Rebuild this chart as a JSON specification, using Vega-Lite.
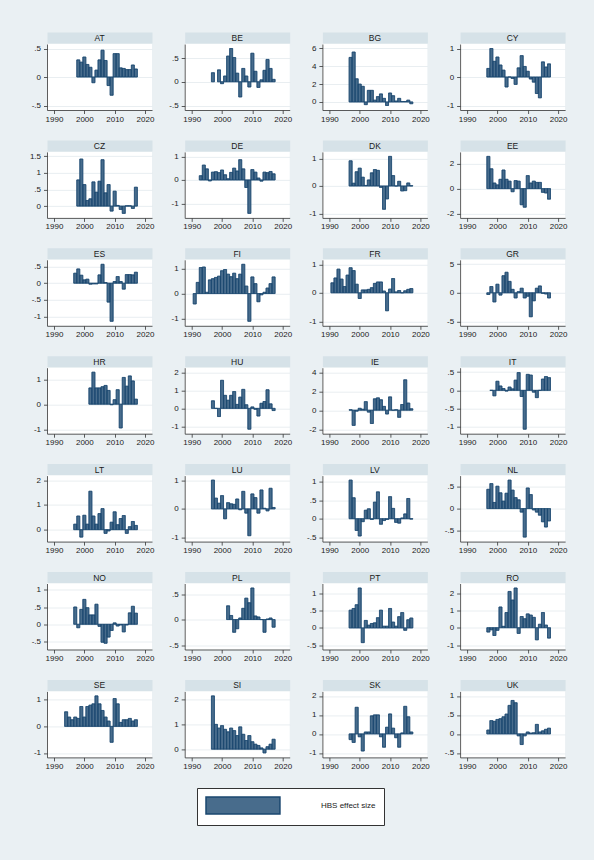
{
"$schema": "https://vega.github.io/schema/vega-lite/v6.json",
"background": "#eaf0f3",
"padding": {"left": 29, "top": 34, "right": 27, "bottom": 35},
"data": {"values": [
{"c":"AT","yr":1998,"v":0.30},{"c":"AT","yr":1999,"v":0.26},{"c":"AT","yr":2000,"v":0.35},{"c":"AT","yr":2001,"v":0.22},{"c":"AT","yr":2002,"v":0.17},{"c":"AT","yr":2003,"v":-0.10},{"c":"AT","yr":2004,"v":0.12},{"c":"AT","yr":2005,"v":0.30},{"c":"AT","yr":2006,"v":0.47},{"c":"AT","yr":2007,"v":0.29},{"c":"AT","yr":2008,"v":-0.15},{"c":"AT","yr":2009,"v":-0.32},{"c":"AT","yr":2010,"v":0.41},{"c":"AT","yr":2011,"v":0.41},{"c":"AT","yr":2012,"v":0.16},{"c":"AT","yr":2013,"v":0.15},{"c":"AT","yr":2014,"v":0.13},{"c":"AT","yr":2015,"v":0.13},{"c":"AT","yr":2016,"v":0.21},{"c":"AT","yr":2017,"v":0.14},
{"c":"BE","yr":1997,"v":0.19},{"c":"BE","yr":1999,"v":0.25},{"c":"BE","yr":2000,"v":-0.04},{"c":"BE","yr":2001,"v":0.12},{"c":"BE","yr":2002,"v":0.54},{"c":"BE","yr":2003,"v":0.70},{"c":"BE","yr":2004,"v":0.51},{"c":"BE","yr":2005,"v":0.18},{"c":"BE","yr":2006,"v":-0.32},{"c":"BE","yr":2007,"v":0.28},{"c":"BE","yr":2008,"v":0.12},{"c":"BE","yr":2009,"v":-0.11},{"c":"BE","yr":2010,"v":0.60},{"c":"BE","yr":2011,"v":0.22},{"c":"BE","yr":2012,"v":-0.12},{"c":"BE","yr":2013,"v":0.04},{"c":"BE","yr":2014,"v":0.24},{"c":"BE","yr":2015,"v":0.47},{"c":"BE","yr":2016,"v":0.28},{"c":"BE","yr":2017,"v":0.05},
{"c":"BG","yr":1997,"v":5.0},{"c":"BG","yr":1998,"v":5.6},{"c":"BG","yr":1999,"v":2.6},{"c":"BG","yr":2000,"v":2.0},{"c":"BG","yr":2001,"v":1.75},{"c":"BG","yr":2002,"v":-0.3},{"c":"BG","yr":2003,"v":1.3},{"c":"BG","yr":2004,"v":1.3},{"c":"BG","yr":2005,"v":0.2},{"c":"BG","yr":2006,"v":0.6},{"c":"BG","yr":2007,"v":0.9},{"c":"BG","yr":2008,"v":0.4},{"c":"BG","yr":2009,"v":-0.4},{"c":"BG","yr":2010,"v":1.0},{"c":"BG","yr":2011,"v":0.7},{"c":"BG","yr":2012,"v":0.1},{"c":"BG","yr":2013,"v":0.4},{"c":"BG","yr":2014,"v":0.05},{"c":"BG","yr":2015,"v":0.05},{"c":"BG","yr":2016,"v":0.2},{"c":"BG","yr":2017,"v":-0.2},
{"c":"CY","yr":1997,"v":0.30},{"c":"CY","yr":1998,"v":1.0},{"c":"CY","yr":1999,"v":0.55},{"c":"CY","yr":2000,"v":0.70},{"c":"CY","yr":2001,"v":0.42},{"c":"CY","yr":2002,"v":0.24},{"c":"CY","yr":2003,"v":-0.35},{"c":"CY","yr":2004,"v":0},{"c":"CY","yr":2005,"v":-0.05},{"c":"CY","yr":2006,"v":-0.26},{"c":"CY","yr":2007,"v":0.32},{"c":"CY","yr":2008,"v":0.75},{"c":"CY","yr":2009,"v":0.37},{"c":"CY","yr":2010,"v":0.20},{"c":"CY","yr":2011,"v":-0.07},{"c":"CY","yr":2012,"v":-0.18},{"c":"CY","yr":2013,"v":-0.58},{"c":"CY","yr":2014,"v":-0.73},{"c":"CY","yr":2015,"v":0.53},{"c":"CY","yr":2016,"v":0.35},{"c":"CY","yr":2017,"v":0.46},
{"c":"CZ","yr":1998,"v":0.79},{"c":"CZ","yr":1999,"v":1.42},{"c":"CZ","yr":2000,"v":0.65},{"c":"CZ","yr":2001,"v":0.17},{"c":"CZ","yr":2002,"v":0.22},{"c":"CZ","yr":2003,"v":0.73},{"c":"CZ","yr":2004,"v":0.42},{"c":"CZ","yr":2005,"v":0.75},{"c":"CZ","yr":2006,"v":1.40},{"c":"CZ","yr":2007,"v":0.40},{"c":"CZ","yr":2008,"v":0.65},{"c":"CZ","yr":2009,"v":-0.15},{"c":"CZ","yr":2010,"v":0.45},{"c":"CZ","yr":2011,"v":0.02},{"c":"CZ","yr":2012,"v":-0.10},{"c":"CZ","yr":2013,"v":-0.22},{"c":"CZ","yr":2014,"v":0.01},{"c":"CZ","yr":2015,"v":0.01},{"c":"CZ","yr":2016,"v":-0.07},{"c":"CZ","yr":2017,"v":0.57},
{"c":"DE","yr":1993,"v":0.18},{"c":"DE","yr":1994,"v":0.63},{"c":"DE","yr":1995,"v":0.47},{"c":"DE","yr":1996,"v":-0.04},{"c":"DE","yr":1997,"v":0.33},{"c":"DE","yr":1998,"v":0.35},{"c":"DE","yr":1999,"v":0.31},{"c":"DE","yr":2000,"v":0.42},{"c":"DE","yr":2001,"v":0.22},{"c":"DE","yr":2002,"v":0.05},{"c":"DE","yr":2003,"v":0.32},{"c":"DE","yr":2004,"v":0.50},{"c":"DE","yr":2005,"v":0.38},{"c":"DE","yr":2006,"v":0.86},{"c":"DE","yr":2007,"v":0.47},{"c":"DE","yr":2008,"v":-0.32},{"c":"DE","yr":2009,"v":-1.42},{"c":"DE","yr":2010,"v":0.44},{"c":"DE","yr":2011,"v":0.33},{"c":"DE","yr":2012,"v":0.08},{"c":"DE","yr":2013,"v":-0.05},{"c":"DE","yr":2014,"v":0.33},{"c":"DE","yr":2015,"v":0.31},{"c":"DE","yr":2016,"v":0.36},{"c":"DE","yr":2017,"v":0.26},
{"c":"DK","yr":1997,"v":0.92},{"c":"DK","yr":1998,"v":0.10},{"c":"DK","yr":1999,"v":0.52},{"c":"DK","yr":2000,"v":0.65},{"c":"DK","yr":2001,"v":0.32},{"c":"DK","yr":2002,"v":0.02},{"c":"DK","yr":2003,"v":0.22},{"c":"DK","yr":2004,"v":0.48},{"c":"DK","yr":2005,"v":0.60},{"c":"DK","yr":2006,"v":0.57},{"c":"DK","yr":2007,"v":-0.05},{"c":"DK","yr":2008,"v":-0.85},{"c":"DK","yr":2009,"v":-0.47},{"c":"DK","yr":2010,"v":1.08},{"c":"DK","yr":2011,"v":0.38},{"c":"DK","yr":2012,"v":0.0},{"c":"DK","yr":2013,"v":0.17},{"c":"DK","yr":2014,"v":-0.18},{"c":"DK","yr":2015,"v":-0.17},{"c":"DK","yr":2016,"v":0.11},{"c":"DK","yr":2017,"v":0.01},
{"c":"EE","yr":1997,"v":2.6},{"c":"EE","yr":1998,"v":1.6},{"c":"EE","yr":1999,"v":0.45},{"c":"EE","yr":2000,"v":0.3},{"c":"EE","yr":2001,"v":0.75},{"c":"EE","yr":2002,"v":1.5},{"c":"EE","yr":2003,"v":0.75},{"c":"EE","yr":2004,"v":0.6},{"c":"EE","yr":2005,"v":-0.25},{"c":"EE","yr":2006,"v":0.65},{"c":"EE","yr":2007,"v":0.6},{"c":"EE","yr":2008,"v":-1.3},{"c":"EE","yr":2009,"v":-1.5},{"c":"EE","yr":2010,"v":1.05},{"c":"EE","yr":2011,"v":0.45},{"c":"EE","yr":2012,"v":0.6},{"c":"EE","yr":2013,"v":0.5},{"c":"EE","yr":2014,"v":0.5},{"c":"EE","yr":2015,"v":-0.3},{"c":"EE","yr":2016,"v":-0.35},{"c":"EE","yr":2017,"v":-0.85},
{"c":"ES","yr":1997,"v":0.30},{"c":"ES","yr":1998,"v":0.43},{"c":"ES","yr":1999,"v":0.24},{"c":"ES","yr":2000,"v":0.10},{"c":"ES","yr":2001,"v":0.12},{"c":"ES","yr":2002,"v":-0.03},{"c":"ES","yr":2003,"v":-0.02},{"c":"ES","yr":2004,"v":-0.02},{"c":"ES","yr":2005,"v":0.25},{"c":"ES","yr":2006,"v":0.57},{"c":"ES","yr":2007,"v":0.02},{"c":"ES","yr":2008,"v":-0.57},{"c":"ES","yr":2009,"v":-1.15},{"c":"ES","yr":2010,"v":0.05},{"c":"ES","yr":2011,"v":0.20},{"c":"ES","yr":2012,"v":0.05},{"c":"ES","yr":2013,"v":-0.18},{"c":"ES","yr":2014,"v":0.26},{"c":"ES","yr":2015,"v":0.26},{"c":"ES","yr":2016,"v":0.25},{"c":"ES","yr":2017,"v":0.33},
{"c":"FI","yr":1991,"v":-0.42},{"c":"FI","yr":1992,"v":0.45},{"c":"FI","yr":1993,"v":1.05},{"c":"FI","yr":1994,"v":1.07},{"c":"FI","yr":1995,"v":0.05},{"c":"FI","yr":1996,"v":0.55},{"c":"FI","yr":1997,"v":0.60},{"c":"FI","yr":1998,"v":0.65},{"c":"FI","yr":1999,"v":0.70},{"c":"FI","yr":2000,"v":0.92},{"c":"FI","yr":2001,"v":0.97},{"c":"FI","yr":2002,"v":0.78},{"c":"FI","yr":2003,"v":0.68},{"c":"FI","yr":2004,"v":0.82},{"c":"FI","yr":2005,"v":0.60},{"c":"FI","yr":2006,"v":0.78},{"c":"FI","yr":2007,"v":1.18},{"c":"FI","yr":2008,"v":0.30},{"c":"FI","yr":2009,"v":-1.12},{"c":"FI","yr":2010,"v":0.67},{"c":"FI","yr":2011,"v":0.40},{"c":"FI","yr":2012,"v":-0.33},{"c":"FI","yr":2013,"v":-0.05},{"c":"FI","yr":2014,"v":0.05},{"c":"FI","yr":2015,"v":0.22},{"c":"FI","yr":2016,"v":0.40},{"c":"FI","yr":2017,"v":0.67},
{"c":"FR","yr":1991,"v":0.35},{"c":"FR","yr":1992,"v":0.52},{"c":"FR","yr":1993,"v":0.83},{"c":"FR","yr":1994,"v":0.48},{"c":"FR","yr":1995,"v":0.22},{"c":"FR","yr":1996,"v":0.62},{"c":"FR","yr":1997,"v":0.88},{"c":"FR","yr":1998,"v":0.78},{"c":"FR","yr":1999,"v":0.30},{"c":"FR","yr":2000,"v":-0.20},{"c":"FR","yr":2001,"v":0.10},{"c":"FR","yr":2002,"v":0.10},{"c":"FR","yr":2003,"v":0.12},{"c":"FR","yr":2004,"v":0.18},{"c":"FR","yr":2005,"v":0.33},{"c":"FR","yr":2006,"v":0.38},{"c":"FR","yr":2007,"v":0.38},{"c":"FR","yr":2008,"v":0.06},{"c":"FR","yr":2009,"v":-0.63},{"c":"FR","yr":2010,"v":0.13},{"c":"FR","yr":2011,"v":0.50},{"c":"FR","yr":2012,"v":0.03},{"c":"FR","yr":2013,"v":0.08},{"c":"FR","yr":2014,"v":0.0},{"c":"FR","yr":2015,"v":0.07},{"c":"FR","yr":2016,"v":0.12},{"c":"FR","yr":2017,"v":0.15},
{"c":"GR","yr":1997,"v":-0.3},{"c":"GR","yr":1998,"v":1.1},{"c":"GR","yr":1999,"v":-1.6},{"c":"GR","yr":2000,"v":1.5},{"c":"GR","yr":2001,"v":-0.4},{"c":"GR","yr":2002,"v":3.0},{"c":"GR","yr":2003,"v":3.6},{"c":"GR","yr":2004,"v":2.0},{"c":"GR","yr":2005,"v":0.6},{"c":"GR","yr":2006,"v":-0.9},{"c":"GR","yr":2007,"v":0.2},{"c":"GR","yr":2008,"v":0.8},{"c":"GR","yr":2009,"v":-0.9},{"c":"GR","yr":2010,"v":-0.6},{"c":"GR","yr":2011,"v":-4.2},{"c":"GR","yr":2012,"v":-1.4},{"c":"GR","yr":2013,"v":0.8},{"c":"GR","yr":2014,"v":1.2},{"c":"GR","yr":2015,"v":-0.1},{"c":"GR","yr":2016,"v":-0.2},{"c":"GR","yr":2017,"v":-0.9},
{"c":"HR","yr":2002,"v":0.65},{"c":"HR","yr":2003,"v":1.28},{"c":"HR","yr":2004,"v":0.65},{"c":"HR","yr":2005,"v":0.65},{"c":"HR","yr":2006,"v":0.70},{"c":"HR","yr":2007,"v":0.75},{"c":"HR","yr":2008,"v":0.55},{"c":"HR","yr":2009,"v":-0.02},{"c":"HR","yr":2010,"v":0.18},{"c":"HR","yr":2011,"v":0.58},{"c":"HR","yr":2012,"v":-0.95},{"c":"HR","yr":2013,"v":1.07},{"c":"HR","yr":2014,"v":0.72},{"c":"HR","yr":2015,"v":1.13},{"c":"HR","yr":2016,"v":0.93},{"c":"HR","yr":2017,"v":0.20},
{"c":"HU","yr":1997,"v":0.42},{"c":"HU","yr":1998,"v":0.0},{"c":"HU","yr":1999,"v":-0.45},{"c":"HU","yr":2000,"v":1.55},{"c":"HU","yr":2001,"v":0.72},{"c":"HU","yr":2002,"v":0.45},{"c":"HU","yr":2003,"v":0.72},{"c":"HU","yr":2004,"v":0.93},{"c":"HU","yr":2005,"v":0.22},{"c":"HU","yr":2006,"v":0.62},{"c":"HU","yr":2007,"v":1.05},{"c":"HU","yr":2008,"v":0.20},{"c":"HU","yr":2009,"v":-1.15},{"c":"HU","yr":2010,"v":0.08},{"c":"HU","yr":2011,"v":-0.05},{"c":"HU","yr":2012,"v":-0.42},{"c":"HU","yr":2013,"v":0.28},{"c":"HU","yr":2014,"v":0.38},{"c":"HU","yr":2015,"v":1.03},{"c":"HU","yr":2016,"v":0.25},{"c":"HU","yr":2017,"v":-0.12},
{"c":"IE","yr":1997,"v":0.05},{"c":"IE","yr":1998,"v":-1.6},{"c":"IE","yr":1999,"v":-0.1},{"c":"IE","yr":2000,"v":0.2},{"c":"IE","yr":2001,"v":0.1},{"c":"IE","yr":2002,"v":0.9},{"c":"IE","yr":2003,"v":-0.2},{"c":"IE","yr":2004,"v":-1.4},{"c":"IE","yr":2005,"v":1.2},{"c":"IE","yr":2006,"v":1.3},{"c":"IE","yr":2007,"v":1.1},{"c":"IE","yr":2008,"v":0.4},{"c":"IE","yr":2009,"v":-0.4},{"c":"IE","yr":2010,"v":1.4},{"c":"IE","yr":2011,"v":0.0},{"c":"IE","yr":2012,"v":0.05},{"c":"IE","yr":2013,"v":-0.75},{"c":"IE","yr":2014,"v":0.6},{"c":"IE","yr":2015,"v":3.2},{"c":"IE","yr":2016,"v":0.75},{"c":"IE","yr":2017,"v":0.15},
{"c":"IT","yr":1998,"v":0.0},{"c":"IT","yr":1999,"v":-0.15},{"c":"IT","yr":2000,"v":0.25},{"c":"IT","yr":2001,"v":0.12},{"c":"IT","yr":2002,"v":0.05},{"c":"IT","yr":2003,"v":-0.02},{"c":"IT","yr":2004,"v":0.09},{"c":"IT","yr":2005,"v":0.04},{"c":"IT","yr":2006,"v":0.28},{"c":"IT","yr":2007,"v":0.49},{"c":"IT","yr":2008,"v":-0.17},{"c":"IT","yr":2009,"v":-1.07},{"c":"IT","yr":2010,"v":0.44},{"c":"IT","yr":2011,"v":0.42},{"c":"IT","yr":2012,"v":-0.05},{"c":"IT","yr":2013,"v":-0.20},{"c":"IT","yr":2014,"v":0.0},{"c":"IT","yr":2015,"v":0.31},{"c":"IT","yr":2016,"v":0.38},{"c":"IT","yr":2017,"v":0.35},
{"c":"LT","yr":1997,"v":0.22},{"c":"LT","yr":1998,"v":0.55},{"c":"LT","yr":1999,"v":-0.30},{"c":"LT","yr":2000,"v":0.58},{"c":"LT","yr":2001,"v":0.22},{"c":"LT","yr":2002,"v":1.55},{"c":"LT","yr":2003,"v":0.55},{"c":"LT","yr":2004,"v":0.22},{"c":"LT","yr":2005,"v":0.65},{"c":"LT","yr":2006,"v":0.85},{"c":"LT","yr":2007,"v":-0.15},{"c":"LT","yr":2008,"v":-0.05},{"c":"LT","yr":2009,"v":0.30},{"c":"LT","yr":2010,"v":0.72},{"c":"LT","yr":2011,"v":0.20},{"c":"LT","yr":2012,"v":0.45},{"c":"LT","yr":2013,"v":0.57},{"c":"LT","yr":2014,"v":-0.15},{"c":"LT","yr":2015,"v":0.12},{"c":"LT","yr":2016,"v":0.33},{"c":"LT","yr":2017,"v":0.17},
{"c":"LU","yr":1997,"v":1.02},{"c":"LU","yr":1998,"v":0.38},{"c":"LU","yr":1999,"v":0.20},{"c":"LU","yr":2000,"v":0.47},{"c":"LU","yr":2001,"v":-0.35},{"c":"LU","yr":2002,"v":0.22},{"c":"LU","yr":2003,"v":0.18},{"c":"LU","yr":2004,"v":0.16},{"c":"LU","yr":2005,"v":0.35},{"c":"LU","yr":2006,"v":-0.03},{"c":"LU","yr":2007,"v":0.62},{"c":"LU","yr":2008,"v":-0.15},{"c":"LU","yr":2009,"v":-0.95},{"c":"LU","yr":2010,"v":0.53},{"c":"LU","yr":2011,"v":0.40},{"c":"LU","yr":2012,"v":-0.15},{"c":"LU","yr":2013,"v":0.67},{"c":"LU","yr":2014,"v":0.02},{"c":"LU","yr":2015,"v":-0.07},{"c":"LU","yr":2016,"v":0.73},{"c":"LU","yr":2017,"v":0.05},
{"c":"LV","yr":1997,"v":1.05},{"c":"LV","yr":1998,"v":0.57},{"c":"LV","yr":1999,"v":-0.32},{"c":"LV","yr":2000,"v":-0.47},{"c":"LV","yr":2001,"v":-0.08},{"c":"LV","yr":2002,"v":0.23},{"c":"LV","yr":2003,"v":0.27},{"c":"LV","yr":2004,"v":-0.02},{"c":"LV","yr":2005,"v":0.45},{"c":"LV","yr":2006,"v":0.73},{"c":"LV","yr":2007,"v":-0.15},{"c":"LV","yr":2008,"v":-0.05},{"c":"LV","yr":2009,"v":-0.02},{"c":"LV","yr":2010,"v":0.60},{"c":"LV","yr":2011,"v":0.28},{"c":"LV","yr":2012,"v":-0.10},{"c":"LV","yr":2013,"v":-0.12},{"c":"LV","yr":2014,"v":0.02},{"c":"LV","yr":2015,"v":0.13},{"c":"LV","yr":2016,"v":0.55},{"c":"LV","yr":2017,"v":-0.01},
{"c":"NL","yr":1997,"v":0.44},{"c":"NL","yr":1998,"v":0.57},{"c":"NL","yr":1999,"v":0.14},{"c":"NL","yr":2000,"v":0.51},{"c":"NL","yr":2001,"v":0.36},{"c":"NL","yr":2002,"v":0.17},{"c":"NL","yr":2003,"v":0.35},{"c":"NL","yr":2004,"v":0.65},{"c":"NL","yr":2005,"v":0.42},{"c":"NL","yr":2006,"v":0.25},{"c":"NL","yr":2007,"v":0.20},{"c":"NL","yr":2008,"v":-0.08},{"c":"NL","yr":2009,"v":-0.65},{"c":"NL","yr":2010,"v":0.47},{"c":"NL","yr":2011,"v":0.32},{"c":"NL","yr":2012,"v":-0.03},{"c":"NL","yr":2013,"v":-0.08},{"c":"NL","yr":2014,"v":-0.15},{"c":"NL","yr":2015,"v":-0.30},{"c":"NL","yr":2016,"v":-0.42},{"c":"NL","yr":2017,"v":-0.28},
{"c":"NO","yr":1997,"v":0.50},{"c":"NO","yr":1998,"v":-0.10},{"c":"NO","yr":1999,"v":0.43},{"c":"NO","yr":2000,"v":0.72},{"c":"NO","yr":2001,"v":0.48},{"c":"NO","yr":2002,"v":0.27},{"c":"NO","yr":2003,"v":0.27},{"c":"NO","yr":2004,"v":0.58},{"c":"NO","yr":2005,"v":-0.06},{"c":"NO","yr":2006,"v":-0.52},{"c":"NO","yr":2007,"v":-0.55},{"c":"NO","yr":2008,"v":-0.37},{"c":"NO","yr":2009,"v":-0.18},{"c":"NO","yr":2010,"v":0.04},{"c":"NO","yr":2011,"v":-0.05},{"c":"NO","yr":2012,"v":-0.02},{"c":"NO","yr":2013,"v":-0.22},{"c":"NO","yr":2014,"v":-0.02},{"c":"NO","yr":2015,"v":0.33},{"c":"NO","yr":2016,"v":0.52},{"c":"NO","yr":2017,"v":0.32},
{"c":"PL","yr":2002,"v":0.27},{"c":"PL","yr":2003,"v":0.08},{"c":"PL","yr":2004,"v":-0.25},{"c":"PL","yr":2005,"v":-0.18},{"c":"PL","yr":2006,"v":0.03},{"c":"PL","yr":2007,"v":0.22},{"c":"PL","yr":2008,"v":0.42},{"c":"PL","yr":2009,"v":0.33},{"c":"PL","yr":2010,"v":0.62},{"c":"PL","yr":2011,"v":0.07},{"c":"PL","yr":2012,"v":0.05},{"c":"PL","yr":2013,"v":0.0},{"c":"PL","yr":2014,"v":-0.25},{"c":"PL","yr":2015,"v":0.01},{"c":"PL","yr":2016,"v":0.03},{"c":"PL","yr":2017,"v":-0.15},
{"c":"PT","yr":1997,"v":0.52},{"c":"PT","yr":1998,"v":0.57},{"c":"PT","yr":1999,"v":0.68},{"c":"PT","yr":2000,"v":1.17},{"c":"PT","yr":2001,"v":-0.43},{"c":"PT","yr":2002,"v":0.22},{"c":"PT","yr":2003,"v":0.08},{"c":"PT","yr":2004,"v":0.13},{"c":"PT","yr":2005,"v":0.15},{"c":"PT","yr":2006,"v":0.30},{"c":"PT","yr":2007,"v":0.52},{"c":"PT","yr":2008,"v":0.05},{"c":"PT","yr":2009,"v":0.05},{"c":"PT","yr":2010,"v":0.57},{"c":"PT","yr":2011,"v":0.17},{"c":"PT","yr":2012,"v":0.05},{"c":"PT","yr":2013,"v":0.33},{"c":"PT","yr":2014,"v":0.45},{"c":"PT","yr":2015,"v":-0.07},{"c":"PT","yr":2016,"v":0.24},{"c":"PT","yr":2017,"v":0.29},
{"c":"RO","yr":1997,"v":-0.25},{"c":"RO","yr":1998,"v":-0.12},{"c":"RO","yr":1999,"v":-0.45},{"c":"RO","yr":2000,"v":-0.15},{"c":"RO","yr":2001,"v":1.2},{"c":"RO","yr":2002,"v":0.08},{"c":"RO","yr":2003,"v":0.88},{"c":"RO","yr":2004,"v":2.1},{"c":"RO","yr":2005,"v":1.6},{"c":"RO","yr":2006,"v":2.3},{"c":"RO","yr":2007,"v":-0.33},{"c":"RO","yr":2008,"v":0.65},{"c":"RO","yr":2009,"v":0.52},{"c":"RO","yr":2010,"v":0.80},{"c":"RO","yr":2011,"v":0.73},{"c":"RO","yr":2012,"v":0.60},{"c":"RO","yr":2013,"v":-0.70},{"c":"RO","yr":2014,"v":0.20},{"c":"RO","yr":2015,"v":0.88},{"c":"RO","yr":2016,"v":0.15},{"c":"RO","yr":2017,"v":-0.60},
{"c":"SE","yr":1994,"v":0.55},{"c":"SE","yr":1995,"v":0.35},{"c":"SE","yr":1996,"v":0.25},{"c":"SE","yr":1997,"v":0.35},{"c":"SE","yr":1998,"v":0.30},{"c":"SE","yr":1999,"v":0.75},{"c":"SE","yr":2000,"v":0.35},{"c":"SE","yr":2001,"v":0.75},{"c":"SE","yr":2002,"v":0.80},{"c":"SE","yr":2003,"v":0.85},{"c":"SE","yr":2004,"v":1.15},{"c":"SE","yr":2005,"v":0.85},{"c":"SE","yr":2006,"v":0.60},{"c":"SE","yr":2007,"v":0.35},{"c":"SE","yr":2008,"v":0.20},{"c":"SE","yr":2009,"v":-0.60},{"c":"SE","yr":2010,"v":1.05},{"c":"SE","yr":2011,"v":0.85},{"c":"SE","yr":2012,"v":0.15},{"c":"SE","yr":2013,"v":0.25},{"c":"SE","yr":2014,"v":0.25},{"c":"SE","yr":2015,"v":0.30},{"c":"SE","yr":2016,"v":0.20},{"c":"SE","yr":2017,"v":0.25},
{"c":"SI","yr":1997,"v":2.15},{"c":"SI","yr":1998,"v":1.0},{"c":"SI","yr":1999,"v":0.85},{"c":"SI","yr":2000,"v":0.95},{"c":"SI","yr":2001,"v":0.8},{"c":"SI","yr":2002,"v":0.7},{"c":"SI","yr":2003,"v":0.85},{"c":"SI","yr":2004,"v":0.75},{"c":"SI","yr":2005,"v":0.55},{"c":"SI","yr":2006,"v":0.9},{"c":"SI","yr":2007,"v":0.6},{"c":"SI","yr":2008,"v":0.35},{"c":"SI","yr":2009,"v":0.55},{"c":"SI","yr":2010,"v":0.3},{"c":"SI","yr":2011,"v":0.2},{"c":"SI","yr":2012,"v":0.15},{"c":"SI","yr":2013,"v":0.05},{"c":"SI","yr":2014,"v":-0.15},{"c":"SI","yr":2015,"v":0.1},{"c":"SI","yr":2016,"v":0.2},{"c":"SI","yr":2017,"v":0.4},
{"c":"SK","yr":1997,"v":-0.3},{"c":"SK","yr":1998,"v":-0.45},{"c":"SK","yr":1999,"v":1.4},{"c":"SK","yr":2000,"v":-0.15},{"c":"SK","yr":2001,"v":-0.9},{"c":"SK","yr":2002,"v":0.1},{"c":"SK","yr":2003,"v":0.1},{"c":"SK","yr":2004,"v":0.95},{"c":"SK","yr":2005,"v":1.0},{"c":"SK","yr":2006,"v":1.0},{"c":"SK","yr":2007,"v":-0.15},{"c":"SK","yr":2008,"v":-0.7},{"c":"SK","yr":2009,"v":0.35},{"c":"SK","yr":2010,"v":1.05},{"c":"SK","yr":2011,"v":0.3},{"c":"SK","yr":2012,"v":-0.2},{"c":"SK","yr":2013,"v":-0.7},{"c":"SK","yr":2014,"v":0.05},{"c":"SK","yr":2015,"v":1.45},{"c":"SK","yr":2016,"v":0.9},{"c":"SK","yr":2017,"v":0.1},
{"c":"UK","yr":1997,"v":0.1},{"c":"UK","yr":1998,"v":0.35},{"c":"UK","yr":1999,"v":0.33},{"c":"UK","yr":2000,"v":0.38},{"c":"UK","yr":2001,"v":0.40},{"c":"UK","yr":2002,"v":0.45},{"c":"UK","yr":2003,"v":0.52},{"c":"UK","yr":2004,"v":0.75},{"c":"UK","yr":2005,"v":0.88},{"c":"UK","yr":2006,"v":0.82},{"c":"UK","yr":2007,"v":-0.05},{"c":"UK","yr":2008,"v":-0.28},{"c":"UK","yr":2009,"v":-0.05},{"c":"UK","yr":2010,"v":0.05},{"c":"UK","yr":2011,"v":0.02},{"c":"UK","yr":2012,"v":0.03},{"c":"UK","yr":2013,"v":0.25},{"c":"UK","yr":2014,"v":0.05},{"c":"UK","yr":2015,"v":0.08},{"c":"UK","yr":2016,"v":0.12},{"c":"UK","yr":2017,"v":0.15}
]},
"columns": 4,
"spacing": {"row": 41.9, "column": 32.7},
"bounds": "flush",
"concat": [
{"title":"AT","transform":[{"filter":{"field":"c","equal":"AT"}}],"layer":[{"mark":{"type":"bar","orient":"vertical","width":3,"stroke":"#1a476f","strokeWidth":0.6},"encoding":{"x":{"field":"yr","type":"quantitative","scale":{"domain":[1990,2020],"padding":7,"nice":false,"zero":false},"axis":{"values":[1990,2000,2010,2020],"format":"d","title":null}},"y":{"field":"v","type":"quantitative","scale":{"domain":[-0.5,0.5],"padding":4.5,"nice":false,"zero":false},"axis":{"values":[-0.5,0,0.5],"title":null,"labelExpr":"datum.value == 0.5 ? '.5' : datum.value == -0.5 ? '-.5' : datum.value == 1.5 ? '1.5' : datum.value < 0 ? '-' + abs(datum.value) : '' + datum.value"}},"color":{"datum":"HBS effect size","title":null,"scale":{"range":["#486c8c"]},"legend":{"orient":"none","legendX":150,"legendY":744,"symbolType":"M-1,-1H7.7V1H-1Z","symbolSize":289}}}},{"mark":{"type":"bar","orient":"vertical","width":3,"fillOpacity":0,"stroke":"#1a476f","strokeWidth":0.6},"encoding":{"x":{"field":"yr","type":"quantitative","axis":{"orient":"top","domainWidth":11,"domainColor":"#d6e2e8","offset":6.5,"ticks":false,"labels":false,"grid":false,"title":null}},"y":{"field":"v","type":"quantitative","axis":null}}}],"resolve":{"axis":{"x":"independent","y":"independent"}}},
{"title":"BE","transform":[{"filter":{"field":"c","equal":"BE"}}],"layer":[{"mark":{"type":"bar","orient":"vertical","width":3,"stroke":"#1a476f","strokeWidth":0.6},"encoding":{"x":{"field":"yr","type":"quantitative","scale":{"domain":[1990,2020],"padding":7,"nice":false,"zero":false},"axis":{"values":[1990,2000,2010,2020],"format":"d","title":null}},"y":{"field":"v","type":"quantitative","scale":{"domain":[-0.5,0.7],"padding":4.5,"nice":false,"zero":false},"axis":{"values":[-0.5,0,0.5],"title":null,"labelExpr":"datum.value == 0.5 ? '.5' : datum.value == -0.5 ? '-.5' : datum.value == 1.5 ? '1.5' : datum.value < 0 ? '-' + abs(datum.value) : '' + datum.value"}},"color":{"datum":"HBS effect size","title":null,"scale":{"range":["#486c8c"]},"legend":{"orient":"none","legendX":150,"legendY":744,"symbolType":"M-1,-1H7.7V1H-1Z","symbolSize":289}}}},{"mark":{"type":"bar","orient":"vertical","width":3,"fillOpacity":0,"stroke":"#1a476f","strokeWidth":0.6},"encoding":{"x":{"field":"yr","type":"quantitative","axis":{"orient":"top","domainWidth":11,"domainColor":"#d6e2e8","offset":6.5,"ticks":false,"labels":false,"grid":false,"title":null}},"y":{"field":"v","type":"quantitative","axis":null}}}],"resolve":{"axis":{"x":"independent","y":"independent"}}},
{"title":"BG","transform":[{"filter":{"field":"c","equal":"BG"}}],"layer":[{"mark":{"type":"bar","orient":"vertical","width":3,"stroke":"#1a476f","strokeWidth":0.6},"encoding":{"x":{"field":"yr","type":"quantitative","scale":{"domain":[1990,2020],"padding":7,"nice":false,"zero":false},"axis":{"values":[1990,2000,2010,2020],"format":"d","title":null}},"y":{"field":"v","type":"quantitative","scale":{"domain":[-0.4,6],"padding":4.5,"nice":false,"zero":false},"axis":{"values":[0,2,4,6],"title":null,"labelExpr":"datum.value == 0.5 ? '.5' : datum.value == -0.5 ? '-.5' : datum.value == 1.5 ? '1.5' : datum.value < 0 ? '-' + abs(datum.value) : '' + datum.value"}},"color":{"datum":"HBS effect size","title":null,"scale":{"range":["#486c8c"]},"legend":{"orient":"none","legendX":150,"legendY":744,"symbolType":"M-1,-1H7.7V1H-1Z","symbolSize":289}}}},{"mark":{"type":"bar","orient":"vertical","width":3,"fillOpacity":0,"stroke":"#1a476f","strokeWidth":0.6},"encoding":{"x":{"field":"yr","type":"quantitative","axis":{"orient":"top","domainWidth":11,"domainColor":"#d6e2e8","offset":6.5,"ticks":false,"labels":false,"grid":false,"title":null}},"y":{"field":"v","type":"quantitative","axis":null}}}],"resolve":{"axis":{"x":"independent","y":"independent"}}},
{"title":"CY","transform":[{"filter":{"field":"c","equal":"CY"}}],"layer":[{"mark":{"type":"bar","orient":"vertical","width":3,"stroke":"#1a476f","strokeWidth":0.6},"encoding":{"x":{"field":"yr","type":"quantitative","scale":{"domain":[1990,2020],"padding":7,"nice":false,"zero":false},"axis":{"values":[1990,2000,2010,2020],"format":"d","title":null}},"y":{"field":"v","type":"quantitative","scale":{"domain":[-1,1],"padding":4.5,"nice":false,"zero":false},"axis":{"values":[-1,0,1],"title":null,"labelExpr":"datum.value == 0.5 ? '.5' : datum.value == -0.5 ? '-.5' : datum.value == 1.5 ? '1.5' : datum.value < 0 ? '-' + abs(datum.value) : '' + datum.value"}},"color":{"datum":"HBS effect size","title":null,"scale":{"range":["#486c8c"]},"legend":{"orient":"none","legendX":150,"legendY":744,"symbolType":"M-1,-1H7.7V1H-1Z","symbolSize":289}}}},{"mark":{"type":"bar","orient":"vertical","width":3,"fillOpacity":0,"stroke":"#1a476f","strokeWidth":0.6},"encoding":{"x":{"field":"yr","type":"quantitative","axis":{"orient":"top","domainWidth":11,"domainColor":"#d6e2e8","offset":6.5,"ticks":false,"labels":false,"grid":false,"title":null}},"y":{"field":"v","type":"quantitative","axis":null}}}],"resolve":{"axis":{"x":"independent","y":"independent"}}},
{"title":"CZ","transform":[{"filter":{"field":"c","equal":"CZ"}}],"layer":[{"mark":{"type":"bar","orient":"vertical","width":3,"stroke":"#1a476f","strokeWidth":0.6},"encoding":{"x":{"field":"yr","type":"quantitative","scale":{"domain":[1990,2020],"padding":7,"nice":false,"zero":false},"axis":{"values":[1990,2000,2010,2020],"format":"d","title":null}},"y":{"field":"v","type":"quantitative","scale":{"domain":[-0.22,1.5],"padding":4.5,"nice":false,"zero":false},"axis":{"values":[0,0.5,1,1.5],"title":null,"labelExpr":"datum.value == 0.5 ? '.5' : datum.value == -0.5 ? '-.5' : datum.value == 1.5 ? '1.5' : datum.value < 0 ? '-' + abs(datum.value) : '' + datum.value"}},"color":{"datum":"HBS effect size","title":null,"scale":{"range":["#486c8c"]},"legend":{"orient":"none","legendX":150,"legendY":744,"symbolType":"M-1,-1H7.7V1H-1Z","symbolSize":289}}}},{"mark":{"type":"bar","orient":"vertical","width":3,"fillOpacity":0,"stroke":"#1a476f","strokeWidth":0.6},"encoding":{"x":{"field":"yr","type":"quantitative","axis":{"orient":"top","domainWidth":11,"domainColor":"#d6e2e8","offset":6.5,"ticks":false,"labels":false,"grid":false,"title":null}},"y":{"field":"v","type":"quantitative","axis":null}}}],"resolve":{"axis":{"x":"independent","y":"independent"}}},
{"title":"DE","transform":[{"filter":{"field":"c","equal":"DE"}}],"layer":[{"mark":{"type":"bar","orient":"vertical","width":3,"stroke":"#1a476f","strokeWidth":0.6},"encoding":{"x":{"field":"yr","type":"quantitative","scale":{"domain":[1990,2020],"padding":7,"nice":false,"zero":false},"axis":{"values":[1990,2000,2010,2020],"format":"d","title":null}},"y":{"field":"v","type":"quantitative","scale":{"domain":[-1.42,1],"padding":4.5,"nice":false,"zero":false},"axis":{"values":[-1,0,1],"title":null,"labelExpr":"datum.value == 0.5 ? '.5' : datum.value == -0.5 ? '-.5' : datum.value == 1.5 ? '1.5' : datum.value < 0 ? '-' + abs(datum.value) : '' + datum.value"}},"color":{"datum":"HBS effect size","title":null,"scale":{"range":["#486c8c"]},"legend":{"orient":"none","legendX":150,"legendY":744,"symbolType":"M-1,-1H7.7V1H-1Z","symbolSize":289}}}},{"mark":{"type":"bar","orient":"vertical","width":3,"fillOpacity":0,"stroke":"#1a476f","strokeWidth":0.6},"encoding":{"x":{"field":"yr","type":"quantitative","axis":{"orient":"top","domainWidth":11,"domainColor":"#d6e2e8","offset":6.5,"ticks":false,"labels":false,"grid":false,"title":null}},"y":{"field":"v","type":"quantitative","axis":null}}}],"resolve":{"axis":{"x":"independent","y":"independent"}}},
{"title":"DK","transform":[{"filter":{"field":"c","equal":"DK"}}],"layer":[{"mark":{"type":"bar","orient":"vertical","width":3,"stroke":"#1a476f","strokeWidth":0.6},"encoding":{"x":{"field":"yr","type":"quantitative","scale":{"domain":[1990,2020],"padding":7,"nice":false,"zero":false},"axis":{"values":[1990,2000,2010,2020],"format":"d","title":null}},"y":{"field":"v","type":"quantitative","scale":{"domain":[-1,1.08],"padding":4.5,"nice":false,"zero":false},"axis":{"values":[-1,0,1],"title":null,"labelExpr":"datum.value == 0.5 ? '.5' : datum.value == -0.5 ? '-.5' : datum.value == 1.5 ? '1.5' : datum.value < 0 ? '-' + abs(datum.value) : '' + datum.value"}},"color":{"datum":"HBS effect size","title":null,"scale":{"range":["#486c8c"]},"legend":{"orient":"none","legendX":150,"legendY":744,"symbolType":"M-1,-1H7.7V1H-1Z","symbolSize":289}}}},{"mark":{"type":"bar","orient":"vertical","width":3,"fillOpacity":0,"stroke":"#1a476f","strokeWidth":0.6},"encoding":{"x":{"field":"yr","type":"quantitative","axis":{"orient":"top","domainWidth":11,"domainColor":"#d6e2e8","offset":6.5,"ticks":false,"labels":false,"grid":false,"title":null}},"y":{"field":"v","type":"quantitative","axis":null}}}],"resolve":{"axis":{"x":"independent","y":"independent"}}},
{"title":"EE","transform":[{"filter":{"field":"c","equal":"EE"}}],"layer":[{"mark":{"type":"bar","orient":"vertical","width":3,"stroke":"#1a476f","strokeWidth":0.6},"encoding":{"x":{"field":"yr","type":"quantitative","scale":{"domain":[1990,2020],"padding":7,"nice":false,"zero":false},"axis":{"values":[1990,2000,2010,2020],"format":"d","title":null}},"y":{"field":"v","type":"quantitative","scale":{"domain":[-2,2.6],"padding":4.5,"nice":false,"zero":false},"axis":{"values":[-2,0,2],"title":null,"labelExpr":"datum.value == 0.5 ? '.5' : datum.value == -0.5 ? '-.5' : datum.value == 1.5 ? '1.5' : datum.value < 0 ? '-' + abs(datum.value) : '' + datum.value"}},"color":{"datum":"HBS effect size","title":null,"scale":{"range":["#486c8c"]},"legend":{"orient":"none","legendX":150,"legendY":744,"symbolType":"M-1,-1H7.7V1H-1Z","symbolSize":289}}}},{"mark":{"type":"bar","orient":"vertical","width":3,"fillOpacity":0,"stroke":"#1a476f","strokeWidth":0.6},"encoding":{"x":{"field":"yr","type":"quantitative","axis":{"orient":"top","domainWidth":11,"domainColor":"#d6e2e8","offset":6.5,"ticks":false,"labels":false,"grid":false,"title":null}},"y":{"field":"v","type":"quantitative","axis":null}}}],"resolve":{"axis":{"x":"independent","y":"independent"}}},
{"title":"ES","transform":[{"filter":{"field":"c","equal":"ES"}}],"layer":[{"mark":{"type":"bar","orient":"vertical","width":3,"stroke":"#1a476f","strokeWidth":0.6},"encoding":{"x":{"field":"yr","type":"quantitative","scale":{"domain":[1990,2020],"padding":7,"nice":false,"zero":false},"axis":{"values":[1990,2000,2010,2020],"format":"d","title":null}},"y":{"field":"v","type":"quantitative","scale":{"domain":[-1.15,0.57],"padding":4.5,"nice":false,"zero":false},"axis":{"values":[-1,-0.5,0,0.5],"title":null,"labelExpr":"datum.value == 0.5 ? '.5' : datum.value == -0.5 ? '-.5' : datum.value == 1.5 ? '1.5' : datum.value < 0 ? '-' + abs(datum.value) : '' + datum.value"}},"color":{"datum":"HBS effect size","title":null,"scale":{"range":["#486c8c"]},"legend":{"orient":"none","legendX":150,"legendY":744,"symbolType":"M-1,-1H7.7V1H-1Z","symbolSize":289}}}},{"mark":{"type":"bar","orient":"vertical","width":3,"fillOpacity":0,"stroke":"#1a476f","strokeWidth":0.6},"encoding":{"x":{"field":"yr","type":"quantitative","axis":{"orient":"top","domainWidth":11,"domainColor":"#d6e2e8","offset":6.5,"ticks":false,"labels":false,"grid":false,"title":null}},"y":{"field":"v","type":"quantitative","axis":null}}}],"resolve":{"axis":{"x":"independent","y":"independent"}}},
{"title":"FI","transform":[{"filter":{"field":"c","equal":"FI"}}],"layer":[{"mark":{"type":"bar","orient":"vertical","width":3,"stroke":"#1a476f","strokeWidth":0.6},"encoding":{"x":{"field":"yr","type":"quantitative","scale":{"domain":[1990,2020],"padding":7,"nice":false,"zero":false},"axis":{"values":[1990,2000,2010,2020],"format":"d","title":null}},"y":{"field":"v","type":"quantitative","scale":{"domain":[-1.12,1.18],"padding":4.5,"nice":false,"zero":false},"axis":{"values":[-1,0,1],"title":null,"labelExpr":"datum.value == 0.5 ? '.5' : datum.value == -0.5 ? '-.5' : datum.value == 1.5 ? '1.5' : datum.value < 0 ? '-' + abs(datum.value) : '' + datum.value"}},"color":{"datum":"HBS effect size","title":null,"scale":{"range":["#486c8c"]},"legend":{"orient":"none","legendX":150,"legendY":744,"symbolType":"M-1,-1H7.7V1H-1Z","symbolSize":289}}}},{"mark":{"type":"bar","orient":"vertical","width":3,"fillOpacity":0,"stroke":"#1a476f","strokeWidth":0.6},"encoding":{"x":{"field":"yr","type":"quantitative","axis":{"orient":"top","domainWidth":11,"domainColor":"#d6e2e8","offset":6.5,"ticks":false,"labels":false,"grid":false,"title":null}},"y":{"field":"v","type":"quantitative","axis":null}}}],"resolve":{"axis":{"x":"independent","y":"independent"}}},
{"title":"FR","transform":[{"filter":{"field":"c","equal":"FR"}}],"layer":[{"mark":{"type":"bar","orient":"vertical","width":3,"stroke":"#1a476f","strokeWidth":0.6},"encoding":{"x":{"field":"yr","type":"quantitative","scale":{"domain":[1990,2020],"padding":7,"nice":false,"zero":false},"axis":{"values":[1990,2000,2010,2020],"format":"d","title":null}},"y":{"field":"v","type":"quantitative","scale":{"domain":[-1,1],"padding":4.5,"nice":false,"zero":false},"axis":{"values":[-1,0,1],"title":null,"labelExpr":"datum.value == 0.5 ? '.5' : datum.value == -0.5 ? '-.5' : datum.value == 1.5 ? '1.5' : datum.value < 0 ? '-' + abs(datum.value) : '' + datum.value"}},"color":{"datum":"HBS effect size","title":null,"scale":{"range":["#486c8c"]},"legend":{"orient":"none","legendX":150,"legendY":744,"symbolType":"M-1,-1H7.7V1H-1Z","symbolSize":289}}}},{"mark":{"type":"bar","orient":"vertical","width":3,"fillOpacity":0,"stroke":"#1a476f","strokeWidth":0.6},"encoding":{"x":{"field":"yr","type":"quantitative","axis":{"orient":"top","domainWidth":11,"domainColor":"#d6e2e8","offset":6.5,"ticks":false,"labels":false,"grid":false,"title":null}},"y":{"field":"v","type":"quantitative","axis":null}}}],"resolve":{"axis":{"x":"independent","y":"independent"}}},
{"title":"GR","transform":[{"filter":{"field":"c","equal":"GR"}}],"layer":[{"mark":{"type":"bar","orient":"vertical","width":3,"stroke":"#1a476f","strokeWidth":0.6},"encoding":{"x":{"field":"yr","type":"quantitative","scale":{"domain":[1990,2020],"padding":7,"nice":false,"zero":false},"axis":{"values":[1990,2000,2010,2020],"format":"d","title":null}},"y":{"field":"v","type":"quantitative","scale":{"domain":[-5,5],"padding":4.5,"nice":false,"zero":false},"axis":{"values":[-5,0,5],"title":null,"labelExpr":"datum.value == 0.5 ? '.5' : datum.value == -0.5 ? '-.5' : datum.value == 1.5 ? '1.5' : datum.value < 0 ? '-' + abs(datum.value) : '' + datum.value"}},"color":{"datum":"HBS effect size","title":null,"scale":{"range":["#486c8c"]},"legend":{"orient":"none","legendX":150,"legendY":744,"symbolType":"M-1,-1H7.7V1H-1Z","symbolSize":289}}}},{"mark":{"type":"bar","orient":"vertical","width":3,"fillOpacity":0,"stroke":"#1a476f","strokeWidth":0.6},"encoding":{"x":{"field":"yr","type":"quantitative","axis":{"orient":"top","domainWidth":11,"domainColor":"#d6e2e8","offset":6.5,"ticks":false,"labels":false,"grid":false,"title":null}},"y":{"field":"v","type":"quantitative","axis":null}}}],"resolve":{"axis":{"x":"independent","y":"independent"}}},
{"title":"HR","transform":[{"filter":{"field":"c","equal":"HR"}}],"layer":[{"mark":{"type":"bar","orient":"vertical","width":3,"stroke":"#1a476f","strokeWidth":0.6},"encoding":{"x":{"field":"yr","type":"quantitative","scale":{"domain":[1990,2020],"padding":7,"nice":false,"zero":false},"axis":{"values":[1990,2000,2010,2020],"format":"d","title":null}},"y":{"field":"v","type":"quantitative","scale":{"domain":[-1,1.28],"padding":4.5,"nice":false,"zero":false},"axis":{"values":[-1,0,1],"title":null,"labelExpr":"datum.value == 0.5 ? '.5' : datum.value == -0.5 ? '-.5' : datum.value == 1.5 ? '1.5' : datum.value < 0 ? '-' + abs(datum.value) : '' + datum.value"}},"color":{"datum":"HBS effect size","title":null,"scale":{"range":["#486c8c"]},"legend":{"orient":"none","legendX":150,"legendY":744,"symbolType":"M-1,-1H7.7V1H-1Z","symbolSize":289}}}},{"mark":{"type":"bar","orient":"vertical","width":3,"fillOpacity":0,"stroke":"#1a476f","strokeWidth":0.6},"encoding":{"x":{"field":"yr","type":"quantitative","axis":{"orient":"top","domainWidth":11,"domainColor":"#d6e2e8","offset":6.5,"ticks":false,"labels":false,"grid":false,"title":null}},"y":{"field":"v","type":"quantitative","axis":null}}}],"resolve":{"axis":{"x":"independent","y":"independent"}}},
{"title":"HU","transform":[{"filter":{"field":"c","equal":"HU"}}],"layer":[{"mark":{"type":"bar","orient":"vertical","width":3,"stroke":"#1a476f","strokeWidth":0.6},"encoding":{"x":{"field":"yr","type":"quantitative","scale":{"domain":[1990,2020],"padding":7,"nice":false,"zero":false},"axis":{"values":[1990,2000,2010,2020],"format":"d","title":null}},"y":{"field":"v","type":"quantitative","scale":{"domain":[-1.15,2],"padding":4.5,"nice":false,"zero":false},"axis":{"values":[-1,0,1,2],"title":null,"labelExpr":"datum.value == 0.5 ? '.5' : datum.value == -0.5 ? '-.5' : datum.value == 1.5 ? '1.5' : datum.value < 0 ? '-' + abs(datum.value) : '' + datum.value"}},"color":{"datum":"HBS effect size","title":null,"scale":{"range":["#486c8c"]},"legend":{"orient":"none","legendX":150,"legendY":744,"symbolType":"M-1,-1H7.7V1H-1Z","symbolSize":289}}}},{"mark":{"type":"bar","orient":"vertical","width":3,"fillOpacity":0,"stroke":"#1a476f","strokeWidth":0.6},"encoding":{"x":{"field":"yr","type":"quantitative","axis":{"orient":"top","domainWidth":11,"domainColor":"#d6e2e8","offset":6.5,"ticks":false,"labels":false,"grid":false,"title":null}},"y":{"field":"v","type":"quantitative","axis":null}}}],"resolve":{"axis":{"x":"independent","y":"independent"}}},
{"title":"IE","transform":[{"filter":{"field":"c","equal":"IE"}}],"layer":[{"mark":{"type":"bar","orient":"vertical","width":3,"stroke":"#1a476f","strokeWidth":0.6},"encoding":{"x":{"field":"yr","type":"quantitative","scale":{"domain":[1990,2020],"padding":7,"nice":false,"zero":false},"axis":{"values":[1990,2000,2010,2020],"format":"d","title":null}},"y":{"field":"v","type":"quantitative","scale":{"domain":[-2,4],"padding":4.5,"nice":false,"zero":false},"axis":{"values":[-2,0,2,4],"title":null,"labelExpr":"datum.value == 0.5 ? '.5' : datum.value == -0.5 ? '-.5' : datum.value == 1.5 ? '1.5' : datum.value < 0 ? '-' + abs(datum.value) : '' + datum.value"}},"color":{"datum":"HBS effect size","title":null,"scale":{"range":["#486c8c"]},"legend":{"orient":"none","legendX":150,"legendY":744,"symbolType":"M-1,-1H7.7V1H-1Z","symbolSize":289}}}},{"mark":{"type":"bar","orient":"vertical","width":3,"fillOpacity":0,"stroke":"#1a476f","strokeWidth":0.6},"encoding":{"x":{"field":"yr","type":"quantitative","axis":{"orient":"top","domainWidth":11,"domainColor":"#d6e2e8","offset":6.5,"ticks":false,"labels":false,"grid":false,"title":null}},"y":{"field":"v","type":"quantitative","axis":null}}}],"resolve":{"axis":{"x":"independent","y":"independent"}}},
{"title":"IT","transform":[{"filter":{"field":"c","equal":"IT"}}],"layer":[{"mark":{"type":"bar","orient":"vertical","width":3,"stroke":"#1a476f","strokeWidth":0.6},"encoding":{"x":{"field":"yr","type":"quantitative","scale":{"domain":[1990,2020],"padding":7,"nice":false,"zero":false},"axis":{"values":[1990,2000,2010,2020],"format":"d","title":null}},"y":{"field":"v","type":"quantitative","scale":{"domain":[-1.07,0.5],"padding":4.5,"nice":false,"zero":false},"axis":{"values":[-1,-0.5,0,0.5],"title":null,"labelExpr":"datum.value == 0.5 ? '.5' : datum.value == -0.5 ? '-.5' : datum.value == 1.5 ? '1.5' : datum.value < 0 ? '-' + abs(datum.value) : '' + datum.value"}},"color":{"datum":"HBS effect size","title":null,"scale":{"range":["#486c8c"]},"legend":{"orient":"none","legendX":150,"legendY":744,"symbolType":"M-1,-1H7.7V1H-1Z","symbolSize":289}}}},{"mark":{"type":"bar","orient":"vertical","width":3,"fillOpacity":0,"stroke":"#1a476f","strokeWidth":0.6},"encoding":{"x":{"field":"yr","type":"quantitative","axis":{"orient":"top","domainWidth":11,"domainColor":"#d6e2e8","offset":6.5,"ticks":false,"labels":false,"grid":false,"title":null}},"y":{"field":"v","type":"quantitative","axis":null}}}],"resolve":{"axis":{"x":"independent","y":"independent"}}},
{"title":"LT","transform":[{"filter":{"field":"c","equal":"LT"}}],"layer":[{"mark":{"type":"bar","orient":"vertical","width":3,"stroke":"#1a476f","strokeWidth":0.6},"encoding":{"x":{"field":"yr","type":"quantitative","scale":{"domain":[1990,2020],"padding":7,"nice":false,"zero":false},"axis":{"values":[1990,2000,2010,2020],"format":"d","title":null}},"y":{"field":"v","type":"quantitative","scale":{"domain":[-0.3,2],"padding":4.5,"nice":false,"zero":false},"axis":{"values":[0,1,2],"title":null,"labelExpr":"datum.value == 0.5 ? '.5' : datum.value == -0.5 ? '-.5' : datum.value == 1.5 ? '1.5' : datum.value < 0 ? '-' + abs(datum.value) : '' + datum.value"}},"color":{"datum":"HBS effect size","title":null,"scale":{"range":["#486c8c"]},"legend":{"orient":"none","legendX":150,"legendY":744,"symbolType":"M-1,-1H7.7V1H-1Z","symbolSize":289}}}},{"mark":{"type":"bar","orient":"vertical","width":3,"fillOpacity":0,"stroke":"#1a476f","strokeWidth":0.6},"encoding":{"x":{"field":"yr","type":"quantitative","axis":{"orient":"top","domainWidth":11,"domainColor":"#d6e2e8","offset":6.5,"ticks":false,"labels":false,"grid":false,"title":null}},"y":{"field":"v","type":"quantitative","axis":null}}}],"resolve":{"axis":{"x":"independent","y":"independent"}}},
{"title":"LU","transform":[{"filter":{"field":"c","equal":"LU"}}],"layer":[{"mark":{"type":"bar","orient":"vertical","width":3,"stroke":"#1a476f","strokeWidth":0.6},"encoding":{"x":{"field":"yr","type":"quantitative","scale":{"domain":[1990,2020],"padding":7,"nice":false,"zero":false},"axis":{"values":[1990,2000,2010,2020],"format":"d","title":null}},"y":{"field":"v","type":"quantitative","scale":{"domain":[-1,1.02],"padding":4.5,"nice":false,"zero":false},"axis":{"values":[-1,0,1],"title":null,"labelExpr":"datum.value == 0.5 ? '.5' : datum.value == -0.5 ? '-.5' : datum.value == 1.5 ? '1.5' : datum.value < 0 ? '-' + abs(datum.value) : '' + datum.value"}},"color":{"datum":"HBS effect size","title":null,"scale":{"range":["#486c8c"]},"legend":{"orient":"none","legendX":150,"legendY":744,"symbolType":"M-1,-1H7.7V1H-1Z","symbolSize":289}}}},{"mark":{"type":"bar","orient":"vertical","width":3,"fillOpacity":0,"stroke":"#1a476f","strokeWidth":0.6},"encoding":{"x":{"field":"yr","type":"quantitative","axis":{"orient":"top","domainWidth":11,"domainColor":"#d6e2e8","offset":6.5,"ticks":false,"labels":false,"grid":false,"title":null}},"y":{"field":"v","type":"quantitative","axis":null}}}],"resolve":{"axis":{"x":"independent","y":"independent"}}},
{"title":"LV","transform":[{"filter":{"field":"c","equal":"LV"}}],"layer":[{"mark":{"type":"bar","orient":"vertical","width":3,"stroke":"#1a476f","strokeWidth":0.6},"encoding":{"x":{"field":"yr","type":"quantitative","scale":{"domain":[1990,2020],"padding":7,"nice":false,"zero":false},"axis":{"values":[1990,2000,2010,2020],"format":"d","title":null}},"y":{"field":"v","type":"quantitative","scale":{"domain":[-0.5,1.05],"padding":4.5,"nice":false,"zero":false},"axis":{"values":[-0.5,0,0.5,1],"title":null,"labelExpr":"datum.value == 0.5 ? '.5' : datum.value == -0.5 ? '-.5' : datum.value == 1.5 ? '1.5' : datum.value < 0 ? '-' + abs(datum.value) : '' + datum.value"}},"color":{"datum":"HBS effect size","title":null,"scale":{"range":["#486c8c"]},"legend":{"orient":"none","legendX":150,"legendY":744,"symbolType":"M-1,-1H7.7V1H-1Z","symbolSize":289}}}},{"mark":{"type":"bar","orient":"vertical","width":3,"fillOpacity":0,"stroke":"#1a476f","strokeWidth":0.6},"encoding":{"x":{"field":"yr","type":"quantitative","axis":{"orient":"top","domainWidth":11,"domainColor":"#d6e2e8","offset":6.5,"ticks":false,"labels":false,"grid":false,"title":null}},"y":{"field":"v","type":"quantitative","axis":null}}}],"resolve":{"axis":{"x":"independent","y":"independent"}}},
{"title":"NL","transform":[{"filter":{"field":"c","equal":"NL"}}],"layer":[{"mark":{"type":"bar","orient":"vertical","width":3,"stroke":"#1a476f","strokeWidth":0.6},"encoding":{"x":{"field":"yr","type":"quantitative","scale":{"domain":[1990,2020],"padding":7,"nice":false,"zero":false},"axis":{"values":[1990,2000,2010,2020],"format":"d","title":null}},"y":{"field":"v","type":"quantitative","scale":{"domain":[-0.65,0.65],"padding":4.5,"nice":false,"zero":false},"axis":{"values":[-0.5,0,0.5],"title":null,"labelExpr":"datum.value == 0.5 ? '.5' : datum.value == -0.5 ? '-.5' : datum.value == 1.5 ? '1.5' : datum.value < 0 ? '-' + abs(datum.value) : '' + datum.value"}},"color":{"datum":"HBS effect size","title":null,"scale":{"range":["#486c8c"]},"legend":{"orient":"none","legendX":150,"legendY":744,"symbolType":"M-1,-1H7.7V1H-1Z","symbolSize":289}}}},{"mark":{"type":"bar","orient":"vertical","width":3,"fillOpacity":0,"stroke":"#1a476f","strokeWidth":0.6},"encoding":{"x":{"field":"yr","type":"quantitative","axis":{"orient":"top","domainWidth":11,"domainColor":"#d6e2e8","offset":6.5,"ticks":false,"labels":false,"grid":false,"title":null}},"y":{"field":"v","type":"quantitative","axis":null}}}],"resolve":{"axis":{"x":"independent","y":"independent"}}},
{"title":"NO","transform":[{"filter":{"field":"c","equal":"NO"}}],"layer":[{"mark":{"type":"bar","orient":"vertical","width":3,"stroke":"#1a476f","strokeWidth":0.6},"encoding":{"x":{"field":"yr","type":"quantitative","scale":{"domain":[1990,2020],"padding":7,"nice":false,"zero":false},"axis":{"values":[1990,2000,2010,2020],"format":"d","title":null}},"y":{"field":"v","type":"quantitative","scale":{"domain":[-0.6,1.05],"padding":4.5,"nice":false,"zero":false},"axis":{"values":[-0.5,0,0.5,1],"title":null,"labelExpr":"datum.value == 0.5 ? '.5' : datum.value == -0.5 ? '-.5' : datum.value == 1.5 ? '1.5' : datum.value < 0 ? '-' + abs(datum.value) : '' + datum.value"}},"color":{"datum":"HBS effect size","title":null,"scale":{"range":["#486c8c"]},"legend":{"orient":"none","legendX":150,"legendY":744,"symbolType":"M-1,-1H7.7V1H-1Z","symbolSize":289}}}},{"mark":{"type":"bar","orient":"vertical","width":3,"fillOpacity":0,"stroke":"#1a476f","strokeWidth":0.6},"encoding":{"x":{"field":"yr","type":"quantitative","axis":{"orient":"top","domainWidth":11,"domainColor":"#d6e2e8","offset":6.5,"ticks":false,"labels":false,"grid":false,"title":null}},"y":{"field":"v","type":"quantitative","axis":null}}}],"resolve":{"axis":{"x":"independent","y":"independent"}}},
{"title":"PL","transform":[{"filter":{"field":"c","equal":"PL"}}],"layer":[{"mark":{"type":"bar","orient":"vertical","width":3,"stroke":"#1a476f","strokeWidth":0.6},"encoding":{"x":{"field":"yr","type":"quantitative","scale":{"domain":[1990,2020],"padding":7,"nice":false,"zero":false},"axis":{"values":[1990,2000,2010,2020],"format":"d","title":null}},"y":{"field":"v","type":"quantitative","scale":{"domain":[-0.5,0.62],"padding":4.5,"nice":false,"zero":false},"axis":{"values":[-0.5,0,0.5],"title":null,"labelExpr":"datum.value == 0.5 ? '.5' : datum.value == -0.5 ? '-.5' : datum.value == 1.5 ? '1.5' : datum.value < 0 ? '-' + abs(datum.value) : '' + datum.value"}},"color":{"datum":"HBS effect size","title":null,"scale":{"range":["#486c8c"]},"legend":{"orient":"none","legendX":150,"legendY":744,"symbolType":"M-1,-1H7.7V1H-1Z","symbolSize":289}}}},{"mark":{"type":"bar","orient":"vertical","width":3,"fillOpacity":0,"stroke":"#1a476f","strokeWidth":0.6},"encoding":{"x":{"field":"yr","type":"quantitative","axis":{"orient":"top","domainWidth":11,"domainColor":"#d6e2e8","offset":6.5,"ticks":false,"labels":false,"grid":false,"title":null}},"y":{"field":"v","type":"quantitative","axis":null}}}],"resolve":{"axis":{"x":"independent","y":"independent"}}},
{"title":"PT","transform":[{"filter":{"field":"c","equal":"PT"}}],"layer":[{"mark":{"type":"bar","orient":"vertical","width":3,"stroke":"#1a476f","strokeWidth":0.6},"encoding":{"x":{"field":"yr","type":"quantitative","scale":{"domain":[1990,2020],"padding":7,"nice":false,"zero":false},"axis":{"values":[1990,2000,2010,2020],"format":"d","title":null}},"y":{"field":"v","type":"quantitative","scale":{"domain":[-0.5,1.17],"padding":4.5,"nice":false,"zero":false},"axis":{"values":[-0.5,0,0.5,1],"title":null,"labelExpr":"datum.value == 0.5 ? '.5' : datum.value == -0.5 ? '-.5' : datum.value == 1.5 ? '1.5' : datum.value < 0 ? '-' + abs(datum.value) : '' + datum.value"}},"color":{"datum":"HBS effect size","title":null,"scale":{"range":["#486c8c"]},"legend":{"orient":"none","legendX":150,"legendY":744,"symbolType":"M-1,-1H7.7V1H-1Z","symbolSize":289}}}},{"mark":{"type":"bar","orient":"vertical","width":3,"fillOpacity":0,"stroke":"#1a476f","strokeWidth":0.6},"encoding":{"x":{"field":"yr","type":"quantitative","axis":{"orient":"top","domainWidth":11,"domainColor":"#d6e2e8","offset":6.5,"ticks":false,"labels":false,"grid":false,"title":null}},"y":{"field":"v","type":"quantitative","axis":null}}}],"resolve":{"axis":{"x":"independent","y":"independent"}}},
{"title":"RO","transform":[{"filter":{"field":"c","equal":"RO"}}],"layer":[{"mark":{"type":"bar","orient":"vertical","width":3,"stroke":"#1a476f","strokeWidth":0.6},"encoding":{"x":{"field":"yr","type":"quantitative","scale":{"domain":[1990,2020],"padding":7,"nice":false,"zero":false},"axis":{"values":[1990,2000,2010,2020],"format":"d","title":null}},"y":{"field":"v","type":"quantitative","scale":{"domain":[-1,2.3],"padding":4.5,"nice":false,"zero":false},"axis":{"values":[-1,0,1,2],"title":null,"labelExpr":"datum.value == 0.5 ? '.5' : datum.value == -0.5 ? '-.5' : datum.value == 1.5 ? '1.5' : datum.value < 0 ? '-' + abs(datum.value) : '' + datum.value"}},"color":{"datum":"HBS effect size","title":null,"scale":{"range":["#486c8c"]},"legend":{"orient":"none","legendX":150,"legendY":744,"symbolType":"M-1,-1H7.7V1H-1Z","symbolSize":289}}}},{"mark":{"type":"bar","orient":"vertical","width":3,"fillOpacity":0,"stroke":"#1a476f","strokeWidth":0.6},"encoding":{"x":{"field":"yr","type":"quantitative","axis":{"orient":"top","domainWidth":11,"domainColor":"#d6e2e8","offset":6.5,"ticks":false,"labels":false,"grid":false,"title":null}},"y":{"field":"v","type":"quantitative","axis":null}}}],"resolve":{"axis":{"x":"independent","y":"independent"}}},
{"title":"SE","transform":[{"filter":{"field":"c","equal":"SE"}}],"layer":[{"mark":{"type":"bar","orient":"vertical","width":3,"stroke":"#1a476f","strokeWidth":0.6},"encoding":{"x":{"field":"yr","type":"quantitative","scale":{"domain":[1990,2020],"padding":7,"nice":false,"zero":false},"axis":{"values":[1990,2000,2010,2020],"format":"d","title":null}},"y":{"field":"v","type":"quantitative","scale":{"domain":[-1,1.15],"padding":4.5,"nice":false,"zero":false},"axis":{"values":[-1,0,1],"title":null,"labelExpr":"datum.value == 0.5 ? '.5' : datum.value == -0.5 ? '-.5' : datum.value == 1.5 ? '1.5' : datum.value < 0 ? '-' + abs(datum.value) : '' + datum.value"}},"color":{"datum":"HBS effect size","title":null,"scale":{"range":["#486c8c"]},"legend":{"orient":"none","legendX":150,"legendY":744,"symbolType":"M-1,-1H7.7V1H-1Z","symbolSize":289}}}},{"mark":{"type":"bar","orient":"vertical","width":3,"fillOpacity":0,"stroke":"#1a476f","strokeWidth":0.6},"encoding":{"x":{"field":"yr","type":"quantitative","axis":{"orient":"top","domainWidth":11,"domainColor":"#d6e2e8","offset":6.5,"ticks":false,"labels":false,"grid":false,"title":null}},"y":{"field":"v","type":"quantitative","axis":null}}}],"resolve":{"axis":{"x":"independent","y":"independent"}}},
{"title":"SI","transform":[{"filter":{"field":"c","equal":"SI"}}],"layer":[{"mark":{"type":"bar","orient":"vertical","width":3,"stroke":"#1a476f","strokeWidth":0.6},"encoding":{"x":{"field":"yr","type":"quantitative","scale":{"domain":[1990,2020],"padding":7,"nice":false,"zero":false},"axis":{"values":[1990,2000,2010,2020],"format":"d","title":null}},"y":{"field":"v","type":"quantitative","scale":{"domain":[-0.15,2.15],"padding":4.5,"nice":false,"zero":false},"axis":{"values":[0,1,2],"title":null,"labelExpr":"datum.value == 0.5 ? '.5' : datum.value == -0.5 ? '-.5' : datum.value == 1.5 ? '1.5' : datum.value < 0 ? '-' + abs(datum.value) : '' + datum.value"}},"color":{"datum":"HBS effect size","title":null,"scale":{"range":["#486c8c"]},"legend":{"orient":"none","legendX":150,"legendY":744,"symbolType":"M-1,-1H7.7V1H-1Z","symbolSize":289}}}},{"mark":{"type":"bar","orient":"vertical","width":3,"fillOpacity":0,"stroke":"#1a476f","strokeWidth":0.6},"encoding":{"x":{"field":"yr","type":"quantitative","axis":{"orient":"top","domainWidth":11,"domainColor":"#d6e2e8","offset":6.5,"ticks":false,"labels":false,"grid":false,"title":null}},"y":{"field":"v","type":"quantitative","axis":null}}}],"resolve":{"axis":{"x":"independent","y":"independent"}}},
{"title":"SK","transform":[{"filter":{"field":"c","equal":"SK"}}],"layer":[{"mark":{"type":"bar","orient":"vertical","width":3,"stroke":"#1a476f","strokeWidth":0.6},"encoding":{"x":{"field":"yr","type":"quantitative","scale":{"domain":[1990,2020],"padding":7,"nice":false,"zero":false},"axis":{"values":[1990,2000,2010,2020],"format":"d","title":null}},"y":{"field":"v","type":"quantitative","scale":{"domain":[-1,2],"padding":4.5,"nice":false,"zero":false},"axis":{"values":[-1,0,1,2],"title":null,"labelExpr":"datum.value == 0.5 ? '.5' : datum.value == -0.5 ? '-.5' : datum.value == 1.5 ? '1.5' : datum.value < 0 ? '-' + abs(datum.value) : '' + datum.value"}},"color":{"datum":"HBS effect size","title":null,"scale":{"range":["#486c8c"]},"legend":{"orient":"none","legendX":150,"legendY":744,"symbolType":"M-1,-1H7.7V1H-1Z","symbolSize":289}}}},{"mark":{"type":"bar","orient":"vertical","width":3,"fillOpacity":0,"stroke":"#1a476f","strokeWidth":0.6},"encoding":{"x":{"field":"yr","type":"quantitative","axis":{"orient":"top","domainWidth":11,"domainColor":"#d6e2e8","offset":6.5,"ticks":false,"labels":false,"grid":false,"title":null}},"y":{"field":"v","type":"quantitative","axis":null}}}],"resolve":{"axis":{"x":"independent","y":"independent"}}},
{"title":"UK","transform":[{"filter":{"field":"c","equal":"UK"}}],"layer":[{"mark":{"type":"bar","orient":"vertical","width":3,"stroke":"#1a476f","strokeWidth":0.6},"encoding":{"x":{"field":"yr","type":"quantitative","scale":{"domain":[1990,2020],"padding":7,"nice":false,"zero":false},"axis":{"values":[1990,2000,2010,2020],"format":"d","title":null}},"y":{"field":"v","type":"quantitative","scale":{"domain":[-0.5,1],"padding":4.5,"nice":false,"zero":false},"axis":{"values":[-0.5,0,0.5,1],"title":null,"labelExpr":"datum.value == 0.5 ? '.5' : datum.value == -0.5 ? '-.5' : datum.value == 1.5 ? '1.5' : datum.value < 0 ? '-' + abs(datum.value) : '' + datum.value"}},"color":{"datum":"HBS effect size","title":null,"scale":{"range":["#486c8c"]},"legend":{"orient":"none","legendX":150,"legendY":744,"symbolType":"M-1,-1H7.7V1H-1Z","symbolSize":289}}}},{"mark":{"type":"bar","orient":"vertical","width":3,"fillOpacity":0,"stroke":"#1a476f","strokeWidth":0.6},"encoding":{"x":{"field":"yr","type":"quantitative","axis":{"orient":"top","domainWidth":11,"domainColor":"#d6e2e8","offset":6.5,"ticks":false,"labels":false,"grid":false,"title":null}},"y":{"field":"v","type":"quantitative","axis":null}}}],"resolve":{"axis":{"x":"independent","y":"independent"}}}
],
"config": {
"font": "Liberation Sans",
"view": {"continuousWidth": 105, "continuousHeight": 66, "stroke": null, "fill": "white"},
"axis": {"labelFont": "Liberation Sans", "labelFontSize": 8, "labelColor": "#1a1a1a", "domainColor": "#333333", "tickColor": "#333333", "domainWidth": 0.8, "tickWidth": 0.8, "tickSize": 3.5, "labelFlush": false},
"axisX": {"labelPadding": 1.5, "labelAngle": 0, "grid": false},
"axisY": {"labelPadding": 3, "grid": true, "gridColor": "#e3eaee", "gridWidth": 0.8},
"title": {"font": "Liberation Sans", "fontSize": 8.5, "fontWeight": "normal", "color": "#1a1a1a", "anchor": "middle", "frame": "group", "offset": -5},
"legend": {"direction": "horizontal", "padding": 8, "strokeColor": "#333333", "fillColor": "white", "labelOffset": 97, "labelFont": "Liberation Sans", "labelFontSize": 8, "labelColor": "#1a1a1a", "cornerRadius": 0}
}
}
